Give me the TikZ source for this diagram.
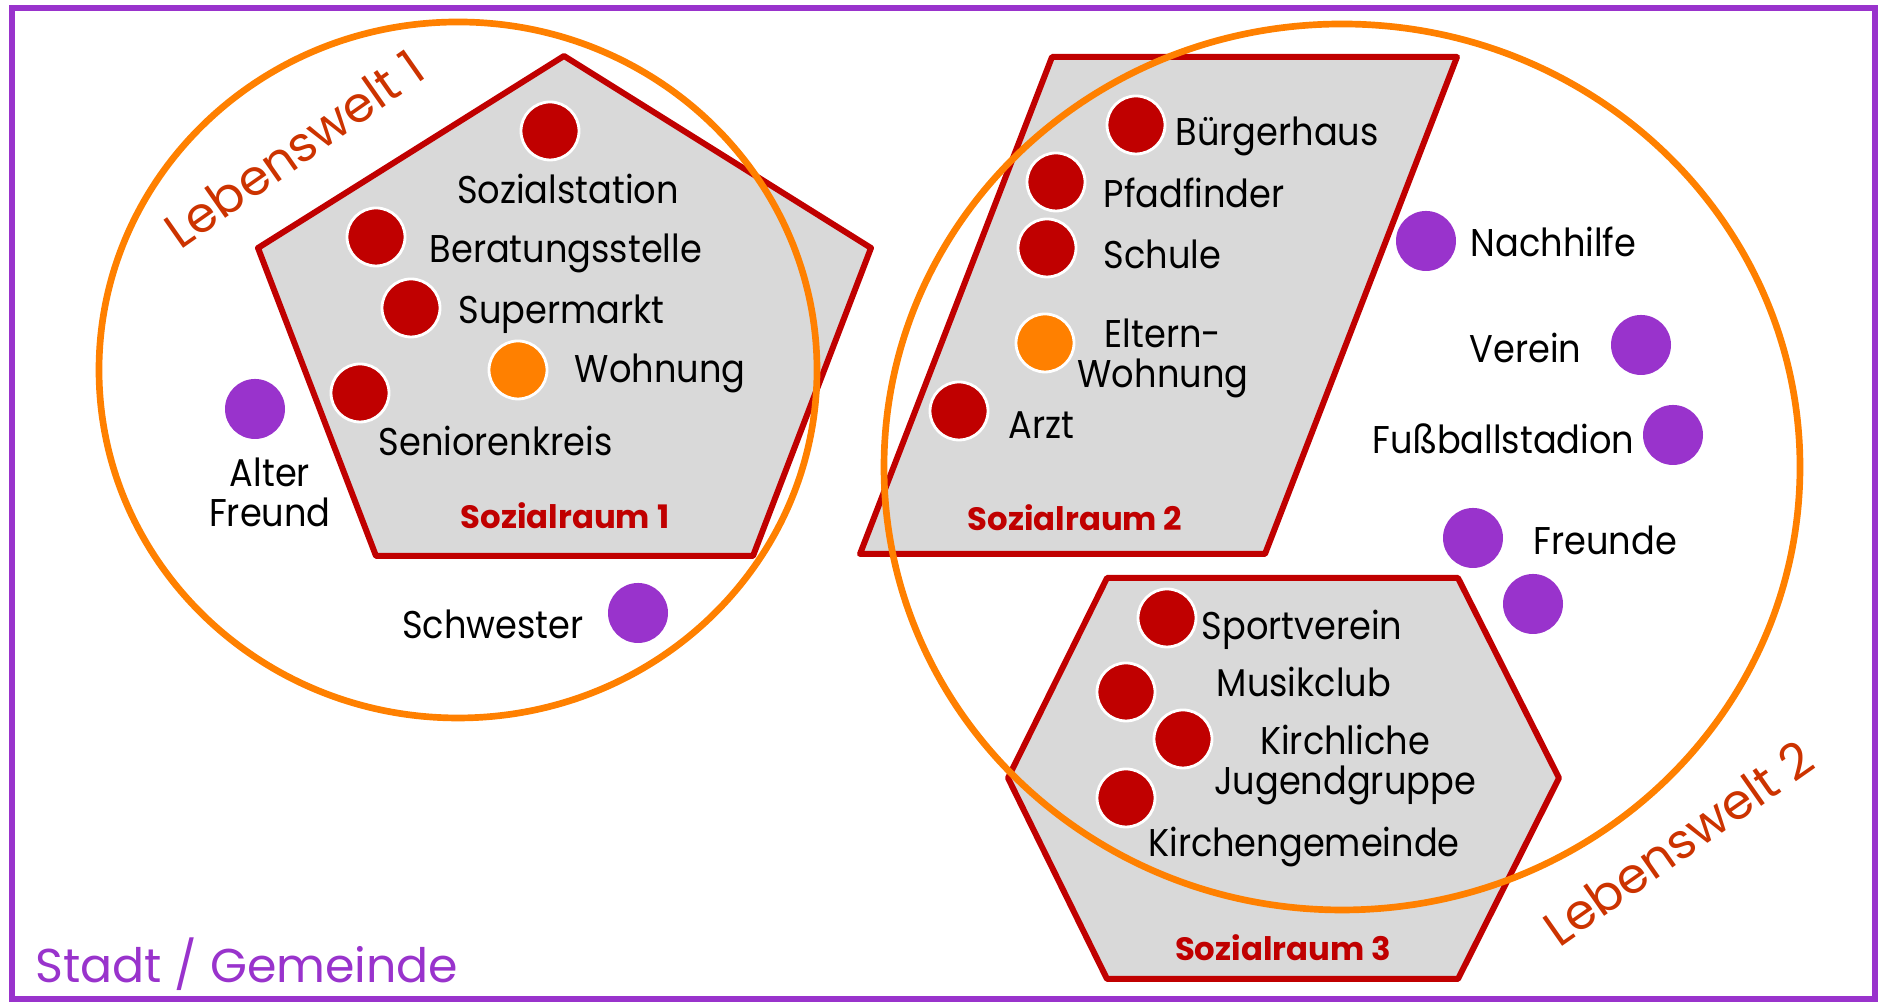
\documentclass[tikz,border=0pt]{standalone}
\usepackage{fontspec}
\setmainfont{Poppins}
\newfontfamily\ortfont{Poppins}[FakeStretch=0.91]
\usepackage{tikz}

\definecolor{raumrot}{HTML}{C00000}
\definecolor{raumgrau}{HTML}{D9D9D9}
\definecolor{weltorange}{HTML}{FF8000}
\definecolor{weltrot}{HTML}{CC3300}
\definecolor{stadtlila}{HTML}{9933CC}

\tikzset{
  raum/.style={draw=raumrot, fill=raumgrau, line width=1.7pt, line join=round},
  welt/.style={draw=weltorange, line width=1.9pt},
  ort/.style={circle, fill=raumrot, draw=white, line width=0.8pt, minimum size=0.58cm, inner sep=0pt},
  wohnort/.style={ort, fill=weltorange},
  person/.style={circle, fill=stadtlila, minimum size=0.6cm, inner sep=0pt},
  ortname/.style={font=\ortfont\fontsize{11}{11.4}\selectfont, inner sep=0pt, align=center},
  raumname/.style={font=\fontsize{9.2}{10}\selectfont\bfseries, text=raumrot, inner sep=0pt},
  weltname/.style={font=\fontsize{14}{16}\selectfont, text=weltrot, rotate=35, inner sep=0pt},
}

\begin{document}
\begin{tikzpicture}
    \useasboundingbox (0,0) rectangle (18.84,10.03);

    % Sozialraum 1
    \coordinate (P0) at (5.64,9.47);
    \coordinate (P1) at (8.71,7.55);
    \coordinate (P2) at (7.53,4.47);
    \coordinate (P3) at (3.76,4.47);
    \coordinate (P4) at (2.58,7.55);
    % Sozialraum 2
    \coordinate (Q0) at (10.52,9.46);
    \coordinate (Q1) at (14.57,9.46);
    \coordinate (Q2) at (12.65,4.49);
    \coordinate (Q3) at (8.60,4.49);
    % Sozialraum 3
    \coordinate (H0) at (11.07,4.25);
    \coordinate (H1) at (14.58,4.25);
    \coordinate (H2) at (15.59,2.25);
    \coordinate (H3) at (14.58,0.24);
    \coordinate (H4) at (11.07,0.24);
    \coordinate (H5) at (10.08,2.25);

    \draw [stadtlila, line width=1.5pt] (0.12,0.04) rectangle (18.75,9.95);

    \draw [raum] (P0) -- (P1) -- (P2) -- (P3) -- (P4) -- cycle;
    \draw [raum] (Q0) -- (Q1) -- (Q2) -- (Q3) -- cycle;
    \draw [raum] (H0) -- (H1) -- (H2) -- (H3) -- (H4) -- (H5) -- cycle;

    \draw [welt] (4.58,6.33) ellipse [x radius=3.59, y radius=3.48];
    \draw [welt] (13.42,5.36) ellipse [x radius=4.58, y radius=4.43];

    % Orte und Personen
    \node [ort] (sozialstation) at (5.50,8.72) {};
    \node [ort] (beratung) at (3.76,7.66) {};
    \node [ort] (supermarkt) at (4.11,6.95) {};
    \node [wohnort] (wohnung) at (5.18,6.33) {};
    \node [ort] (senioren) at (3.60,6.10) {};
    \node [person] (freund) at (2.55,5.94) {};
    \node [person] (schwester) at (6.38,3.90) {};
    \node [ort] (buergerhaus) at (11.36,8.78) {};
    \node [ort] (pfadfinder) at (10.56,8.21) {};
    \node [ort] (schule) at (10.47,7.55) {};
    \node [wohnort] (eltern) at (10.45,6.60) {};
    \node [ort] (arzt) at (9.59,5.92) {};
    \node [person] (nachhilfe) at (14.26,7.62) {};
    \node [person] (verein) at (16.41,6.58) {};
    \node [person] (stadion) at (16.73,5.68) {};
    \node [person] (freunde) at (14.73,4.65) {};
    \node [person] (freunde2) at (15.33,3.99) {};
    \node [ort] (sportverein) at (11.67,3.85) {};
    \node [ort] (musikclub) at (11.26,3.11) {};
    \node [ort] (jugend) at (11.83,2.64) {};
    \node [ort] (gemeinde) at (11.26,2.05) {};

    \node [ortname, anchor=base] (t-sozialstation) at (5.68,7.99) {Sozialstation};
    \node [ortname, anchor=base west] (t-beratung) at (4.29,7.40) {Beratungsstelle};
    \node [ortname, anchor=base west] (t-supermarkt) at (4.58,6.79) {Supermarkt};
    \node [ortname, anchor=base west] (t-wohnung) at (5.74,6.20) {Wohnung};
    \node [ortname, anchor=base west] (t-senioren) at (3.78,5.47) {Seniorenkreis};
    \node [ortname, anchor=base] (t-freund) at (2.70,4.76) {Alter\\Freund};
    \node [ortname, anchor=base east] (t-schwester) at (5.84,3.64) {Schwester};
    \node [ortname, anchor=base west] (t-buergerhaus) at (11.75,8.57) {Bürgerhaus};
    \node [ortname, anchor=base west] (t-pfadfinder) at (11.03,7.95) {Pfadfinder};
    \node [ortname, anchor=base west] (t-schule) at (11.03,7.34) {Schule};
    \node [ortname, anchor=base] (t-eltern) at (11.63,6.15) {Eltern-\\Wohnung};
    \node [ortname, anchor=base west] (t-arzt) at (10.08,5.64) {Arzt};
    \node [ortname, anchor=base west] (t-nachhilfe) at (14.70,7.46) {Nachhilfe};
    \node [ortname, anchor=base east] (t-verein) at (15.82,6.40) {Verein};
    \node [ortname, anchor=base east] (t-stadion) at (16.35,5.49) {Fußballstadion};
    \node [ortname, anchor=base west] (t-freunde) at (15.33,4.48) {Freunde};
    \node [ortname, anchor=base west] (t-sportverein) at (12.01,3.63) {Sportverein};
    \node [ortname, anchor=base west] (t-musikclub) at (12.16,3.06) {Musikclub};
    \node [ortname, anchor=base] (t-jugend) at (13.45,2.08) {Kirchliche\\Jugendgruppe};
    \node [ortname, anchor=base] (t-gemeinde) at (13.04,1.46) {Kirchengemeinde};

    \node [raumname, anchor=base] (raum1) at (5.65,4.74) {Sozialraum 1};
    \node [raumname, anchor=base] (raum2) at (10.75,4.72) {Sozialraum 2};
    \node [raumname, anchor=base] (raum3) at (12.83,0.42) {Sozialraum 3};

    \node [weltname] (welt1) at (2.94,8.54) {Lebenswelt 1};
    \node [weltname] (welt2) at (16.78,1.60) {Lebenswelt 2};

    \node [anchor=base west, inner sep=0pt, text=stadtlila, font=\fontsize{13.5}{16}\selectfont] (stadt) at (0.35,0.20) {Stadt / Gemeinde};
\end{tikzpicture}
\end{document}
